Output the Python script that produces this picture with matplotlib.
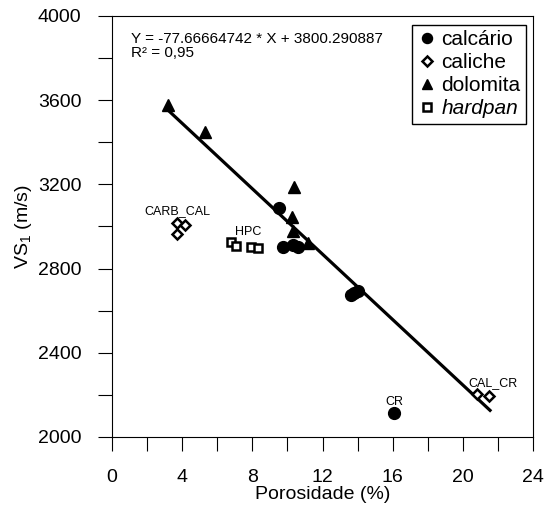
import numpy as np
import matplotlib
matplotlib.use("Agg")
import matplotlib.pyplot as plt
from matplotlib.ticker import MultipleLocator

plt.rcParams['font.family'] = ['Liberation Sans', 'DejaVu Sans']
plt.rcParams['mathtext.fontset'] = 'custom'
plt.rcParams['mathtext.rm'] = 'Liberation Sans'
plt.rcParams['mathtext.it'] = 'Liberation Sans:italic'

# --- data ---
calcario_x = [9.54, 9.77, 10.34, 10.62, 13.6, 13.8, 14.0, 16.09]
calcario_y = [3086, 2904, 2912, 2904, 2675, 2682, 2695, 2113]

caliche_x = [3.69, 4.16, 3.72, 20.83, 21.51]
caliche_y = [3015, 3007, 2964, 2203, 2196]

dolomita_x = [3.21, 5.30, 10.38, 10.25, 10.34, 11.19]
dolomita_y = [3577, 3450, 3186, 3047, 2980, 2923]

hardpan_x = [6.78, 7.07, 7.91, 8.31]
hardpan_y = [2928, 2909, 2904, 2899]

slope = -77.66664742
intercept = 3800.290887
fit_x = np.array([3.12, 21.55])

labels = ["CARB_CAL", "HPC", "CR", "CAL_CR"]
label_x = [3.7, 7.77, 16.09, 21.7]
label_y = [3075, 2975, 2168, 2255]

fig = plt.figure(figsize=(5.45, 5.12), dpi=100)
ax = fig.add_axes([0.2055, 0.1465, 0.7725, 0.8225])

ax.plot(fit_x, slope * fit_x + intercept, color='black', lw=2.3, zorder=2)

ax.plot(calcario_x, calcario_y, 'o', color='black', markersize=8.5, ls='none', label='calcário', zorder=3)
ax.plot(caliche_x, caliche_y, 'D', markerfacecolor='white', markeredgecolor='black',
        markeredgewidth=1.8, markersize=5.5, ls='none', label='caliche', zorder=3)
ax.plot(dolomita_x, dolomita_y, '^', color='black', markersize=8.5, ls='none', label='dolomita', zorder=3)
ax.plot(hardpan_x, hardpan_y, 's', markerfacecolor='white', markeredgecolor='black',
        markeredgewidth=1.8, markersize=6, ls='none', label='hardpan', zorder=3)

for t, x, y in zip(labels, label_x, label_y):
    ax.text(x, y, t, ha='center', va='center', fontsize=9)

ax.text(0.045, 0.962, "Y = -77.66664742 * X + 3800.290887\nR² = 0,95",
        transform=ax.transAxes, ha='left', va='top', fontsize=11, linespacing=1.05)

leg = ax.legend(loc='upper right', bbox_to_anchor=(0.983, 0.979), fontsize=15,
                frameon=True, fancybox=False, edgecolor='black', framealpha=1,
                handletextpad=0.25, handlelength=0.9, borderpad=0.25, labelspacing=0.2,
                borderaxespad=0, markerscale=0.85)
leg.get_frame().set_linewidth(1.0)
leg.get_texts()[3].set_style('italic')

ax.set_xlim(0, 24)
ax.set_ylim(2000, 4000)
ax.xaxis.set_major_locator(MultipleLocator(4))
ax.xaxis.set_minor_locator(MultipleLocator(2))
ax.yaxis.set_major_locator(MultipleLocator(400))
ax.yaxis.set_minor_locator(MultipleLocator(200))
ax.tick_params(which='both', direction='out', length=10, width=0.8, labelsize=14)
ax.tick_params(axis='x', pad=13)
ax.tick_params(axis='y', pad=12)

ax.set_xlabel("Porosidade (%)", fontsize=14, labelpad=0)
ax.set_ylabel(r"VS$_1$ (m/s)", fontsize=14, labelpad=3)

for s in ax.spines.values():
    s.set_linewidth(0.8)

fig.savefig("out.png", dpi=100)
